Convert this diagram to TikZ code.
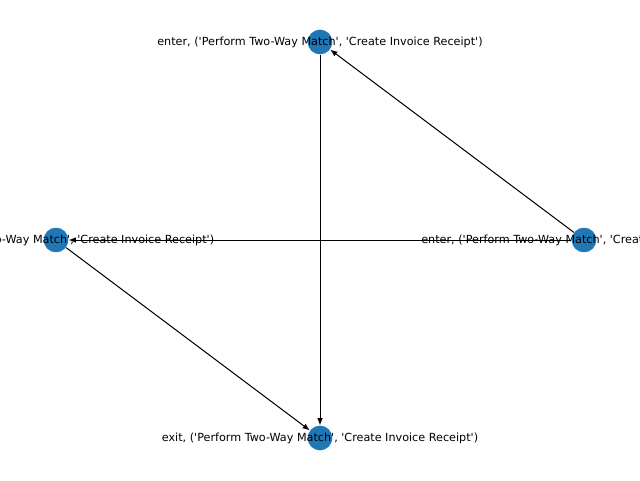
\documentclass[tikz,border=0pt]{standalone}
\usepackage{fontspec}
\setmainfont{DejaVu Sans}[Ligatures=TeXOff]
\usetikzlibrary{arrows.meta}
\definecolor{NodeBlue}{HTML}{1F77B4}

\begin{document}
\begin{tikzpicture}[x=0.75pt,y=0.75pt,
    state/.style={circle,fill=NodeBlue,minimum size=18.5pt,inner sep=0pt},
    lbl/.style={font=\fontsize{8.4}{10}\selectfont,inner sep=0pt},
    arr/.style={-{Latex[length=5.5pt,width=4.2pt]},line width=0.75pt,black}]
    \useasboundingbox (0,0) rectangle (640,480);
    \node[state] (enterTop) at (320,438) {};
    \node[state] (exitLeft) at (56,240) {};
    \node[state] (enterRight) at (584,240) {};
    \node[state] (exitBottom) at (320,42) {};
    \draw[arr] (enterRight)--(enterTop);
    \draw[arr] (enterRight)--(exitLeft);
    \draw[arr] (enterTop)--(exitBottom);
    \draw[arr] (exitLeft)--(exitBottom);
    \node[lbl] (lTop) at (enterTop) {enter, ('Perform Two-Way Match', 'Create Invoice Receipt')};
    \node[lbl] (lLeft) at (exitLeft) {exit, ('Perform Two-Way Match', 'Create Invoice Receipt')};
    \node[lbl] (lRight) at (enterRight) {enter, ('Perform Two-Way Match', 'Create Invoice Receipt')};
    \node[lbl] (lBottom) at (exitBottom) {exit, ('Perform Two-Way Match', 'Create Invoice Receipt')};
\end{tikzpicture}
\end{document}
